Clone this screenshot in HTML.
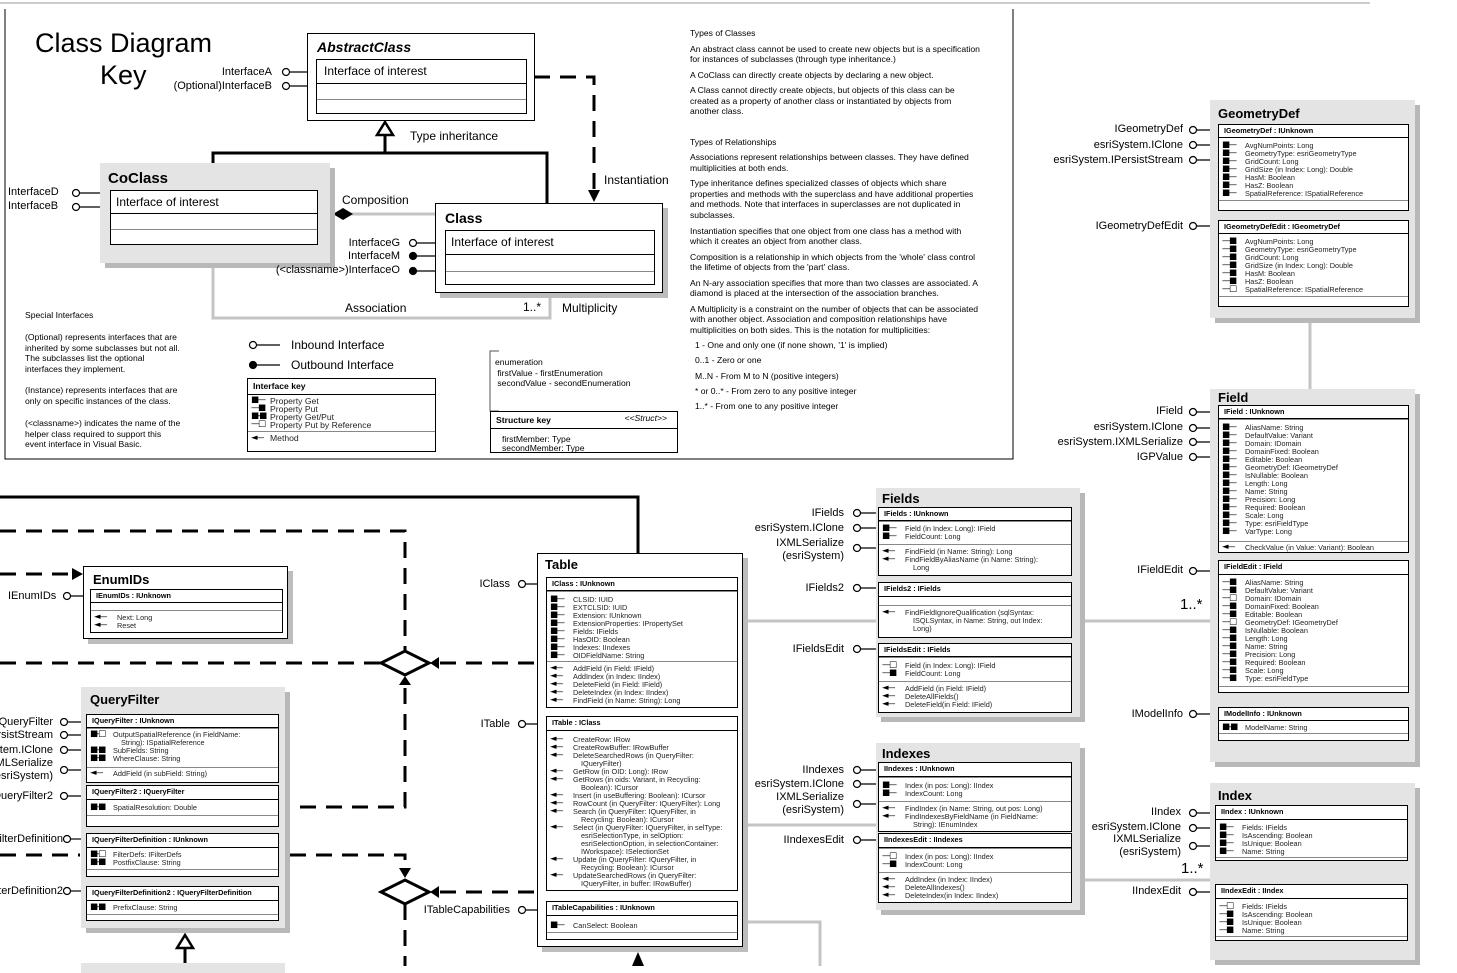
<!DOCTYPE html>
<html><head><meta charset="utf-8"><style>
*{margin:0;padding:0;box-sizing:border-box}
body{width:1457px;height:966px;overflow:hidden;background:#fff;position:relative;font-family:"Liberation Sans",Arial,sans-serif;color:#000}
.a{position:absolute;white-space:nowrap}
.g{position:absolute;background:#e4e4e4;box-shadow:5px 5px 0 #b8b8b8}
.w{position:absolute;background:#fff;border:1.5px solid #000;box-shadow:5px 5px 0 #bdbdbd}
.t{position:absolute;font-weight:bold;font-size:13px;white-space:nowrap}
.f{position:absolute;background:#fff;border:1.5px solid #000;font-size:7.3px;line-height:8px}
.h{font-weight:bold;font-size:7.3px;padding:2px 0 0 5px;border-bottom:1.5px solid #000}
.s{border-top:1.5px solid #888;padding:2px 0}
.s:first-of-type{border-top:none}
.m{position:relative;padding-left:26px;white-space:nowrap;color:#222}
.m i{position:absolute;left:3px;top:-1px;font-style:normal;font-family:"DejaVu Sans",sans-serif;font-size:8.5px;letter-spacing:-1.5px;color:#000}
.c{padding-left:8px}
.l{position:absolute;font-size:11px;text-align:right;white-space:nowrap;line-height:13px}
.x{position:absolute;font-size:8.6px;white-space:nowrap}
</style></head><body>

<svg width="1457" height="966" style="position:absolute;left:0;top:0">
<line x1="0" y1="3" x2="1370" y2="3" stroke="#ccc" stroke-width="2"/>
<polyline points="5,9 5,459 1013,459 1013,9" fill="none" stroke="#000" stroke-width="1"/>
<polyline points="534,77 594,77 594,192" fill="none" stroke="#000" stroke-width="3" stroke-dasharray="16,10"/>
<polygon points="588,190 600,190 594,202" fill="#000"/>
<polyline points="213,163 213,153 547,153 547,203" fill="none" stroke="#000" stroke-width="3"/>
<line x1="385" y1="133" x2="385" y2="153" stroke="#000" stroke-width="3"/>
<polygon points="385,122 377,135 393,135" fill="#fff" stroke="#000" stroke-width="2.5"/>
<polyline points="213,265 213,318 550,318 550,297" fill="none" stroke="#c4c4c4" stroke-width="3"/>
<line x1="336" y1="214" x2="435" y2="214" stroke="#c4c4c4" stroke-width="3"/>
<polygon points="333,214 343,208 353,214 343,220" fill="#000"/>
<polyline points="499,351 490,351 490,411 499,411" fill="none" stroke="#555" stroke-width="1"/>

<polyline points="0,497 638,497 638,553" fill="none" stroke="#000" stroke-width="3"/>
<polyline points="0,531 405,531 405,650" fill="none" stroke="#000" stroke-width="3" stroke-dasharray="16,10"/>
<line x1="0" y1="574" x2="72" y2="574" stroke="#000" stroke-width="3" stroke-dasharray="16,10"/>
<polygon points="72,568 83,574 72,580" fill="#000"/>
<line x1="0" y1="663" x2="380" y2="663" stroke="#000" stroke-width="3" stroke-dasharray="16,10"/>
<line x1="440" y1="663" x2="537" y2="663" stroke="#000" stroke-width="3" stroke-dasharray="16,10"/>
<polygon points="381,663 405,651 429,663 405,675" fill="#fff" stroke="#000" stroke-width="3"/>
<polygon points="430,663 439,657 439,669" fill="#000"/>
<polygon points="405,676 399,685 411,685" fill="#000"/>
<polyline points="405,688 405,807 290,807" fill="none" stroke="#000" stroke-width="3" stroke-dasharray="16,10"/>
<line x1="0" y1="855" x2="80" y2="855" stroke="#000" stroke-width="3" stroke-dasharray="16,10"/>
<polyline points="290,855 405,855 405,868" fill="none" stroke="#000" stroke-width="3" stroke-dasharray="16,10"/>
<polygon points="399,868 411,868 405,878" fill="#000"/>
<polygon points="381,892 405,880 429,892 405,904" fill="#fff" stroke="#000" stroke-width="3"/>
<polygon points="430,892 439,886 439,898" fill="#000"/>
<line x1="440" y1="892" x2="537" y2="892" stroke="#000" stroke-width="3" stroke-dasharray="16,10"/>
<line x1="405" y1="904" x2="405" y2="966" stroke="#000" stroke-width="3" stroke-dasharray="16,10"/>
<line x1="185" y1="948" x2="185" y2="966" stroke="#000" stroke-width="3"/>
<polygon points="185,935 177,948 193,948" fill="#fff" stroke="#000" stroke-width="2.5"/>
<polygon points="638,952 632,966 644,966" fill="#000"/>
<line x1="748" y1="621" x2="876" y2="621" stroke="#c4c4c4" stroke-width="3"/>
<line x1="1085" y1="621" x2="1215" y2="621" stroke="#c4c4c4" stroke-width="3"/>
<line x1="748" y1="825" x2="876" y2="825" stroke="#c4c4c4" stroke-width="3"/>
<line x1="1085" y1="880" x2="1215" y2="880" stroke="#c4c4c4" stroke-width="3"/>
<polyline points="748,922 820,922 820,966" fill="none" stroke="#c4c4c4" stroke-width="3"/>
<line x1="1310" y1="320" x2="1310" y2="390" stroke="#c4c4c4" stroke-width="3"/>

<g stroke="#000" stroke-width="1.2" fill="#fff">
<line x1="289" y1="72" x2="316" y2="72"/><circle cx="286" cy="72" r="3.5"/>
<line x1="289" y1="86" x2="316" y2="86"/><circle cx="286" cy="86" r="3.5"/>
<line x1="79" y1="193" x2="110" y2="193"/><circle cx="76" cy="193" r="3.5"/>
<line x1="79" y1="207" x2="110" y2="207"/><circle cx="76" cy="207" r="3.5"/>
<line x1="416" y1="243" x2="445" y2="243"/><circle cx="413" cy="243" r="3.5"/>
<line x1="416" y1="256" x2="445" y2="256"/><circle cx="413" cy="256" r="3.5" fill="#000"/>
<line x1="416" y1="271" x2="445" y2="271"/><circle cx="413" cy="271" r="3.5" fill="#000"/>
<line x1="256" y1="345" x2="280" y2="345"/><circle cx="253" cy="345" r="3.5"/>
<line x1="256" y1="365" x2="280" y2="365"/><circle cx="253" cy="365" r="3.5" fill="#000"/>

<line x1="1196" y1="130" x2="1218" y2="130"/><circle cx="1193" cy="130" r="3.5"/>
<line x1="1196" y1="145" x2="1218" y2="145"/><circle cx="1193" cy="145" r="3.5"/>
<line x1="1196" y1="160" x2="1218" y2="160"/><circle cx="1193" cy="160" r="3.5"/>
<line x1="1196" y1="226" x2="1218" y2="226"/><circle cx="1193" cy="226" r="3.5"/>
<line x1="1196" y1="412" x2="1218" y2="412"/><circle cx="1193" cy="412" r="3.5"/>
<line x1="1196" y1="428" x2="1218" y2="428"/><circle cx="1193" cy="428" r="3.5"/>
<line x1="1196" y1="442" x2="1218" y2="442"/><circle cx="1193" cy="442" r="3.5"/>
<line x1="1196" y1="457" x2="1218" y2="457"/><circle cx="1193" cy="457" r="3.5"/>
<line x1="1196" y1="571" x2="1218" y2="571"/><circle cx="1193" cy="571" r="3.5"/>
<line x1="1196" y1="714" x2="1218" y2="714"/><circle cx="1193" cy="714" r="3.5"/>
<line x1="1196" y1="813" x2="1218" y2="813"/><circle cx="1193" cy="813" r="3.5"/>
<line x1="1196" y1="828" x2="1218" y2="828"/><circle cx="1193" cy="828" r="3.5"/>
<line x1="1196" y1="846" x2="1218" y2="846"/><circle cx="1193" cy="846" r="3.5"/>
<line x1="1196" y1="892" x2="1218" y2="892"/><circle cx="1193" cy="892" r="3.5"/>

<line x1="860" y1="513" x2="878" y2="513"/><circle cx="857" cy="513" r="3.5"/>
<line x1="860" y1="528" x2="878" y2="528"/><circle cx="857" cy="528" r="3.5"/>
<line x1="860" y1="548" x2="878" y2="548"/><circle cx="857" cy="548" r="3.5"/>
<line x1="860" y1="588" x2="878" y2="588"/><circle cx="857" cy="588" r="3.5"/>
<line x1="860" y1="649" x2="878" y2="649"/><circle cx="857" cy="649" r="3.5"/>
<line x1="860" y1="770" x2="878" y2="770"/><circle cx="857" cy="770" r="3.5"/>
<line x1="860" y1="784" x2="878" y2="784"/><circle cx="857" cy="784" r="3.5"/>
<line x1="860" y1="804" x2="878" y2="804"/><circle cx="857" cy="804" r="3.5"/>
<line x1="860" y1="840" x2="878" y2="840"/><circle cx="857" cy="840" r="3.5"/>

<line x1="525" y1="584" x2="546" y2="584"/><circle cx="522" cy="584" r="3.5"/>
<line x1="525" y1="724" x2="546" y2="724"/><circle cx="522" cy="724" r="3.5"/>
<line x1="525" y1="910" x2="546" y2="910"/><circle cx="522" cy="910" r="3.5"/>
<line x1="70" y1="596" x2="90" y2="596"/><circle cx="67" cy="596" r="3.5"/>

<line x1="67" y1="722" x2="86" y2="722"/><circle cx="64" cy="722" r="3.5"/>
<line x1="67" y1="735" x2="86" y2="735"/><circle cx="64" cy="735" r="3.5"/>
<line x1="67" y1="750" x2="86" y2="750"/><circle cx="64" cy="750" r="3.5"/>
<line x1="67" y1="770" x2="86" y2="770"/><circle cx="64" cy="770" r="3.5"/>
<line x1="67" y1="796" x2="86" y2="796"/><circle cx="64" cy="796" r="3.5"/>
<line x1="70" y1="839" x2="86" y2="839"/><circle cx="67" cy="839" r="3.5"/>
<line x1="70" y1="891" x2="86" y2="891"/><circle cx="67" cy="891" r="3.5"/>
</g>
</svg>

<div class="a" style="left:35px;top:28px;font-size:27px">Class Diagram</div>
<div class="a" style="left:100px;top:60px;font-size:27px">Key</div>

<div class="w" style="left:307px;top:33px;width:228px;height:88px;box-shadow:none"></div>
<div class="t" style="left:317px;top:39px;font-style:italic;font-size:14px">AbstractClass</div>
<div class="f" style="left:316px;top:59px;width:211px;height:55px;font-size:12px;line-height:12px">
<div style="height:24px;border-bottom:1.5px solid #000;padding:5px 0 0 7px">Interface of interest</div>
<div style="height:16px;border-bottom:1.5px solid #888"></div></div>
<div class="l" style="left:150px;top:66px;width:122px">InterfaceA</div>
<div class="l" style="left:150px;top:80px;width:122px">(Optional)InterfaceB</div>
<div class="a" style="left:410px;top:129px;font-size:12px">Type inheritance</div>
<div class="a" style="left:604px;top:173px;font-size:12px">Instantiation</div>

<div class="g" style="left:100px;top:163px;width:230px;height:100px"></div>
<div class="t" style="left:108px;top:170px;font-size:15px">CoClass</div>
<div class="f" style="left:110px;top:190px;width:208px;height:55px;font-size:12px;line-height:12px">
<div style="height:23px;border-bottom:1.5px solid #000;padding:5px 0 0 5px">Interface of interest</div>
<div style="height:16px;border-bottom:1.5px solid #888"></div></div>
<div class="l" style="left:8px;top:186px;text-align:left">InterfaceD</div>
<div class="l" style="left:8px;top:200px;text-align:left">InterfaceB</div>
<div class="a" style="left:342px;top:193px;font-size:12px">Composition</div>

<div class="w" style="left:435px;top:203px;width:228px;height:90px"></div>
<div class="t" style="left:445px;top:210px;font-size:14px">Class</div>
<div class="f" style="left:445px;top:230px;width:210px;height:55px;font-size:12px;line-height:12px">
<div style="height:24px;border-bottom:1.5px solid #000;padding:5px 0 0 5px">Interface of interest</div>
<div style="height:17px;border-bottom:1.5px solid #888"></div></div>
<div class="l" style="left:250px;top:237px;width:150px">InterfaceG</div>
<div class="l" style="left:250px;top:250px;width:150px">InterfaceM</div>
<div class="l" style="left:200px;top:264px;width:200px">(&lt;classname&gt;)InterfaceO</div>
<div class="a" style="left:345px;top:301px;font-size:12px">Association</div>
<div class="a" style="left:523px;top:300px;font-size:12px">1..*</div>
<div class="a" style="left:562px;top:301px;font-size:12px">Multiplicity</div>

<div class="x" style="left:25px;top:310px">Special Interfaces</div>
<div class="x" style="left:25px;top:332px;line-height:10.5px">(Optional) represents interfaces that are<br>inherited by some subclasses but not all.<br>The subclasses list the optional<br>interfaces they implement.</div>
<div class="x" style="left:25px;top:385px;line-height:10.5px">(Instance) represents interfaces that are<br>only on specific instances of the class.</div>
<div class="x" style="left:25px;top:418px;line-height:10.5px">(&lt;classname&gt;) indicates the name of the<br>helper class required to support  this<br>event interface in Visual Basic.</div>

<div class="a" style="left:291px;top:338px;font-size:12px">Inbound Interface</div>
<div class="a" style="left:291px;top:358px;font-size:12px">Outbound Interface</div>

<div class="f" style="left:247px;top:378px;width:189px;height:74px;font-size:8.6px;line-height:8px">
<div style="font-weight:bold;height:16px;padding:3px 0 0 5px;border-bottom:1.5px solid #000">Interface key</div>
<div class="m" style="margin-top:2px;padding-left:22px"><i>■—</i>Property Get</div>
<div class="m" style="padding-left:22px"><i>—■</i>Property Put</div>
<div class="m" style="padding-left:22px"><i>■-■</i>Property Get/Put</div>
<div class="m" style="padding-left:22px"><i>—□</i>Property Put by Reference</div>
<div class="m" style="padding-left:22px;border-top:1.5px solid #888;margin-top:2px;padding-top:2px"><i style="top:2px">◄—</i>Method</div>
</div>

<div class="x" style="left:495px;top:357px;line-height:10.5px">enumeration<br>&nbsp;firstValue - firstEnumeration<br>&nbsp;secondValue - secondEnumeration</div>
<div class="f" style="left:490px;top:411px;width:188px;height:42px;font-size:8.6px;line-height:9px;overflow:hidden">
<div style="font-weight:bold;height:17px;padding:4px 0 0 5px;border-bottom:1.5px solid #000">Structure key<span style="position:absolute;right:10px;top:2px;font-weight:normal;font-style:italic">&lt;&lt;Struct&gt;&gt;</span></div>
<div style="padding:6px 0 0 11px">firstMember: Type<br>secondMember: Type</div></div>

<div class="x" style="left:690px;top:28px">Types of Classes</div>
<div class="x" style="left:690px;top:44px">An abstract class cannot be used to create new objects but is a specification</div>
<div class="x" style="left:690px;top:54px">for instances of subclasses (through type inheritance.)</div>
<div class="x" style="left:690px;top:70px">A CoClass can directly create objects by declaring a new object.</div>
<div class="x" style="left:690px;top:85px">A Class cannot directly create objects, but objects of this class can be</div>
<div class="x" style="left:690px;top:96px">created as a property of another class or instantiated by objects from</div>
<div class="x" style="left:690px;top:106px">another class.</div>
<div class="x" style="left:690px;top:137px">Types of Relationships</div>
<div class="x" style="left:690px;top:152px">Associations represent relationships between classes. They have defined</div>
<div class="x" style="left:690px;top:163px">multiplicities at both ends.</div>
<div class="x" style="left:690px;top:178px">Type inheritance defines specialized classes of objects which share</div>
<div class="x" style="left:690px;top:189px">properties and methods with the superclass and have additional properties</div>
<div class="x" style="left:690px;top:199px">and methods. Note that interfaces in superclasses are not duplicated in</div>
<div class="x" style="left:690px;top:210px">subclasses.</div>
<div class="x" style="left:690px;top:226px">Instantiation specifies that one object from one class has a method with</div>
<div class="x" style="left:690px;top:236px">which it creates an object from another class.</div>
<div class="x" style="left:690px;top:252px">Composition is a relationship in which objects from the 'whole' class control</div>
<div class="x" style="left:690px;top:262px">the lifetime of objects from the 'part' class.</div>
<div class="x" style="left:690px;top:278px">An N-ary association specifies that more than two classes are associated. A</div>
<div class="x" style="left:690px;top:288px">diamond is placed at the intersection of the association branches.</div>
<div class="x" style="left:690px;top:304px">A Multiplicity is a constraint on the number of objects that can be associated</div>
<div class="x" style="left:690px;top:314px">with another object. Association and composition relationships have</div>
<div class="x" style="left:690px;top:325px">multiplicities on both sides. This is the notation for multiplicities:</div>
<div class="x" style="left:695px;top:340px">1 - One and only one (if none shown, '1' is implied)</div>
<div class="x" style="left:695px;top:355px">0..1 - Zero or one</div>
<div class="x" style="left:695px;top:371px">M..N - From M to N (positive integers)</div>
<div class="x" style="left:695px;top:386px">* or 0..* - From zero to any positive integer</div>
<div class="x" style="left:695px;top:401px">1..* - From one to any positive integer</div>

<div class="w" style="left:83px;top:566px;width:205px;height:73px"></div>
<div class="t" style="left:93px;top:572px">EnumIDs</div>
<div class="f" style="left:90px;top:589px;width:193px;height:44px">
<div class="h" style="height:13px">IEnumIDs : IUnknown</div>
<div style="height:8px;border-bottom:1.5px solid #888"></div>
<div class="m" style="margin-top:3px"><i>◄—</i>Next: Long</div>
<div class="m"><i>◄—</i>Reset</div></div>
<div class="l" style="left:8px;top:590px;text-align:left">IEnumIDs</div>

<div class="g" style="left:81px;top:687px;width:204px;height:241px"></div>
<div class="g" style="left:81px;top:963px;width:204px;height:10px;box-shadow:none"></div>
<div class="t" style="left:90px;top:692px">QueryFilter</div>
<div class="f" style="left:86px;top:714px;width:193px;height:69px">
<div class="h" style="height:13px">IQueryFilter : IUnknown</div>
<div class="s" style="height:39px"><div class="m"><i>■-□</i>OutputSpatialReference (in FieldName:<br><span class="c">String): ISpatialReference</span></div>
<div class="m"><i>■-■</i>SubFields: String</div><div class="m"><i>■-■</i>WhereClause: String</div></div>
<div class="s" style="border-top:1.5px solid #888"><div class="m"><i>◄—</i>AddField (in subField: String)</div></div></div>
<div class="f" style="left:86px;top:785px;width:193px;height:42px">
<div class="h" style="height:14px">IQueryFilter2 : IQueryFilter</div>
<div style="height:16px;border-bottom:1.5px solid #888;padding-top:4px"><div class="m"><i>■-■</i>SpatialResolution: Double</div></div></div>
<div class="f" style="left:86px;top:833px;width:193px;height:44px">
<div class="h" style="height:14px">IQueryFilterDefinition : IUnknown</div>
<div style="height:22px;border-bottom:1.5px solid #888;padding-top:3px"><div class="m"><i>■-□</i>FilterDefs: IFilterDefs</div><div class="m"><i>■-■</i>PostfixClause: String</div></div></div>
<div class="f" style="left:86px;top:886px;width:193px;height:35px">
<div class="h" style="height:14px">IQueryFilterDefinition2 : IQueryFilterDefinition</div>
<div style="height:14px;border-bottom:1.5px solid #888;padding-top:3px"><div class="m"><i>■-■</i>PrefixClause: String</div></div></div>
<div class="l" style="left:-100px;top:716px;width:153px">IQueryFilter</div>
<div class="l" style="left:-100px;top:729px;width:153px">IPersistStream</div>
<div class="l" style="left:-100px;top:744px;width:153px">esriSystem.IClone</div>
<div class="l" style="left:-100px;top:757px;width:153px">IXMLSerialize<br>(esriSystem)</div>
<div class="l" style="left:-100px;top:790px;width:153px">IQueryFilter2</div>
<div class="l" style="left:-100px;top:833px;width:163px">IQueryFilterDefinition</div>
<div class="l" style="left:-100px;top:885px;width:163px">IQueryFilterDefinition2</div>

<div class="w" style="left:537px;top:553px;width:206px;height:394px"></div>
<div class="t" style="left:545px;top:557px">Table</div>
<div class="f" style="left:546px;top:577px;width:192px;height:131px">
<div class="h" style="height:13px">IClass : IUnknown</div>
<div class="s" style="height:70px;padding-top:4px">
<div class="m"><i>■—</i>CLSID: IUID</div><div class="m"><i>■—</i>EXTCLSID: IUID</div><div class="m"><i>■—</i>Extension: IUnknown</div><div class="m"><i>■—</i>ExtensionProperties: IPropertySet</div><div class="m"><i>■—</i>Fields: IFields</div><div class="m"><i>■—</i>HasOID: Boolean</div><div class="m"><i>■—</i>Indexes: IIndexes</div><div class="m"><i>■—</i>OIDFieldName: String</div></div>
<div class="s" style="border-top:1.5px solid #888;padding-top:3px">
<div class="m"><i>◄—</i>AddField (in Field: IField)</div><div class="m"><i>◄—</i>AddIndex (in Index: IIndex)</div><div class="m"><i>◄—</i>DeleteField (in Field: IField)</div><div class="m"><i>◄—</i>DeleteIndex (in Index: IIndex)</div><div class="m"><i>◄—</i>FindField (in Name: String): Long</div></div></div>
<div class="f" style="left:546px;top:716px;width:192px;height:175px">
<div class="h" style="height:14px">ITable : IClass</div>
<div style="padding-top:5px">
<div class="m"><i>◄—</i>CreateRow: IRow</div><div class="m"><i>◄—</i>CreateRowBuffer: IRowBuffer</div><div class="m"><i>◄—</i>DeleteSearchedRows (in QueryFilter:<br><span class="c">IQueryFilter)</span></div><div class="m"><i>◄—</i>GetRow (in OID: Long): IRow</div><div class="m"><i>◄—</i>GetRows (in oids: Variant, in Recycling:<br><span class="c">Boolean): ICursor</span></div><div class="m"><i>◄—</i>Insert (in useBuffering: Boolean): ICursor</div><div class="m"><i>◄—</i>RowCount (in QueryFilter: IQueryFilter): Long</div><div class="m"><i>◄—</i>Search (in QueryFilter: IQueryFilter, in<br><span class="c">Recycling: Boolean): ICursor</span></div><div class="m"><i>◄—</i>Select (in QueryFilter: IQueryFilter, in selType:<br><span class="c">esriSelectionType, in selOption:</span><br><span class="c">esriSelectionOption, in selectionContainer:</span><br><span class="c">IWorkspace): ISelectionSet</span></div><div class="m"><i>◄—</i>Update (in QueryFilter: IQueryFilter, in<br><span class="c">Recycling: Boolean): ICursor</span></div><div class="m"><i>◄—</i>UpdateSearchedRows (in QueryFilter:<br><span class="c">IQueryFilter, in buffer: IRowBuffer)</span></div></div></div>
<div class="f" style="left:546px;top:901px;width:192px;height:39px">
<div class="h" style="height:14px">ITableCapabilities : IUnknown</div>
<div style="height:17px;border-bottom:1.5px solid #888;padding-top:6px"><div class="m"><i>■—</i>CanSelect: Boolean</div></div></div>
<div class="l" style="left:400px;top:578px;width:110px">IClass</div>
<div class="l" style="left:400px;top:718px;width:110px">ITable</div>
<div class="l" style="left:400px;top:904px;width:110px">ITableCapabilities</div>

<div class="g" style="left:876px;top:488px;width:204px;height:229px"></div>
<div class="t" style="left:882px;top:491px">Fields</div>
<div class="f" style="left:878px;top:507px;width:194px;height:69px">
<div class="h" style="height:13px">IFields : IUnknown</div>
<div class="s" style="height:23px;padding-top:3px"><div class="m"><i>■—</i>Field (in Index: Long): IField</div><div class="m"><i>■—</i>FieldCount: Long</div></div>
<div class="s" style="border-top:1.5px solid #888;padding-top:3px"><div class="m"><i>◄—</i>FindField (in Name: String): Long</div><div class="m"><i>◄—</i>FindFieldByAliasName (in Name: String):<br><span class="c">Long</span></div></div></div>
<div class="f" style="left:878px;top:582px;width:194px;height:56px">
<div class="h" style="height:14px">IFields2 : IFields</div>
<div style="height:9px;border-bottom:1.5px solid #888"></div>
<div style="padding-top:3px"><div class="m"><i>◄—</i>FindFieldIgnoreQualification (sqlSyntax:<br><span class="c">ISQLSyntax, in Name: String, out Index:</span><br><span class="c">Long)</span></div></div></div>
<div class="f" style="left:878px;top:643px;width:194px;height:70px">
<div class="h" style="height:13px">IFieldsEdit : IFields</div>
<div class="s" style="height:24px;padding-top:4px"><div class="m"><i>—□</i>Field (in Index: Long): IField</div><div class="m"><i>—■</i>FieldCount: Long</div></div>
<div class="s" style="border-top:1.5px solid #888;padding-top:3px"><div class="m"><i>◄—</i>AddField (in Field: IField)</div><div class="m"><i>◄—</i>DeleteAllFields()</div><div class="m"><i>◄—</i>DeleteField(in Field: IField)</div></div></div>
<div class="l" style="left:700px;top:507px;width:144px">IFields</div>
<div class="l" style="left:700px;top:522px;width:144px">esriSystem.IClone</div>
<div class="l" style="left:700px;top:537px;width:144px">IXMLSerialize<br>(esriSystem)</div>
<div class="l" style="left:700px;top:582px;width:144px">IFields2</div>
<div class="l" style="left:700px;top:643px;width:144px">IFieldsEdit</div>

<div class="g" style="left:876px;top:743px;width:204px;height:167px"></div>
<div class="t" style="left:882px;top:746px">Indexes</div>
<div class="f" style="left:878px;top:762px;width:194px;height:70px">
<div class="h" style="height:14px">IIndexes : IUnknown</div>
<div class="s" style="height:24px;padding-top:4px"><div class="m"><i>■—</i>Index (in pos: Long): IIndex</div><div class="m"><i>■—</i>IndexCount: Long</div></div>
<div class="s" style="border-top:1.5px solid #888;padding-top:3px"><div class="m"><i>◄—</i>FindIndex (in Name: String, out pos: Long)</div><div class="m"><i>◄—</i>FindIndexesByFieldName (in FieldName:<br><span class="c">String): IEnumIndex</span></div></div></div>
<div class="f" style="left:878px;top:833px;width:194px;height:70px">
<div class="h" style="height:14px">IIndexesEdit : IIndexes</div>
<div class="s" style="height:24px;padding-top:4px"><div class="m"><i>—□</i>Index (in pos: Long): IIndex</div><div class="m"><i>—■</i>IndexCount: Long</div></div>
<div class="s" style="border-top:1.5px solid #888;padding-top:3px"><div class="m"><i>◄—</i>AddIndex (in Index: IIndex)</div><div class="m"><i>◄—</i>DeleteAllIndexes()</div><div class="m"><i>◄—</i>DeleteIndex(in Index: IIndex)</div></div></div>
<div class="l" style="left:700px;top:764px;width:144px">IIndexes</div>
<div class="l" style="left:700px;top:778px;width:144px">esriSystem.IClone</div>
<div class="l" style="left:700px;top:791px;width:144px">IXMLSerialize<br>(esriSystem)</div>
<div class="l" style="left:700px;top:834px;width:144px">IIndexesEdit</div>

<div class="g" style="left:1210px;top:100px;width:205px;height:218px"></div>
<div class="t" style="left:1218px;top:106px">GeometryDef</div>
<div class="f" style="left:1218px;top:124px;width:191px;height:87px">
<div class="h" style="height:13px">IGeometryDef : IUnknown</div>
<div style="height:63px;border-bottom:1.5px solid #888;padding-top:4px">
<div class="m"><i>■—</i>AvgNumPoints: Long</div><div class="m"><i>■—</i>GeometryType: esriGeometryType</div><div class="m"><i>■—</i>GridCount: Long</div><div class="m"><i>■—</i>GridSize (in Index: Long): Double</div><div class="m"><i>■—</i>HasM: Boolean</div><div class="m"><i>■—</i>HasZ: Boolean</div><div class="m"><i>■—</i>SpatialReference: ISpatialReference</div></div></div>
<div class="f" style="left:1218px;top:220px;width:191px;height:87px">
<div class="h" style="height:13px">IGeometryDefEdit : IGeometryDef</div>
<div style="height:63px;border-bottom:1.5px solid #888;padding-top:4px">
<div class="m"><i>—■</i>AvgNumPoints: Long</div><div class="m"><i>—■</i>GeometryType: esriGeometryType</div><div class="m"><i>—■</i>GridCount: Long</div><div class="m"><i>—■</i>GridSize (in Index: Long): Double</div><div class="m"><i>—■</i>HasM: Boolean</div><div class="m"><i>—■</i>HasZ: Boolean</div><div class="m"><i>—□</i>SpatialReference: ISpatialReference</div></div></div>
<div class="l" style="left:1000px;top:123px;width:183px">IGeometryDef</div>
<div class="l" style="left:1000px;top:139px;width:183px">esriSystem.IClone</div>
<div class="l" style="left:1000px;top:154px;width:183px">esriSystem.IPersistStream</div>
<div class="l" style="left:1000px;top:220px;width:183px">IGeometryDefEdit</div>

<div class="g" style="left:1210px;top:389px;width:205px;height:373px"></div>
<div class="t" style="left:1218px;top:390px">Field</div>
<div class="f" style="left:1218px;top:405px;width:191px;height:148px">
<div class="h" style="height:13px">IField : IUnknown</div>
<div class="s" style="height:122px;padding-top:4px">
<div class="m"><i>■—</i>AliasName: String</div><div class="m"><i>■—</i>DefaultValue: Variant</div><div class="m"><i>■—</i>Domain: IDomain</div><div class="m"><i>■—</i>DomainFixed: Boolean</div><div class="m"><i>■—</i>Editable: Boolean</div><div class="m"><i>■—</i>GeometryDef: IGeometryDef</div><div class="m"><i>■—</i>IsNullable: Boolean</div><div class="m"><i>■—</i>Length: Long</div><div class="m"><i>■—</i>Name: String</div><div class="m"><i>■—</i>Precision: Long</div><div class="m"><i>■—</i>Required: Boolean</div><div class="m"><i>■—</i>Scale: Long</div><div class="m"><i>■—</i>Type: esriFieldType</div><div class="m"><i>■—</i>VarType: Long</div></div>
<div class="s" style="border-top:1.5px solid #888"><div class="m"><i>◄—</i>CheckValue (in Value: Variant): Boolean</div></div></div>
<div class="f" style="left:1218px;top:560px;width:191px;height:133px">
<div class="h" style="height:14px">IFieldEdit : IField</div>
<div style="height:112px;border-bottom:1.5px solid #888;padding-top:4px">
<div class="m"><i>—■</i>AliasName: String</div><div class="m"><i>—■</i>DefaultValue: Variant</div><div class="m"><i>—□</i>Domain: IDomain</div><div class="m"><i>—■</i>DomainFixed: Boolean</div><div class="m"><i>—■</i>Editable: Boolean</div><div class="m"><i>—□</i>GeometryDef: IGeometryDef</div><div class="m"><i>—■</i>IsNullable: Boolean</div><div class="m"><i>—■</i>Length: Long</div><div class="m"><i>—■</i>Name: String</div><div class="m"><i>—■</i>Precision: Long</div><div class="m"><i>—■</i>Required: Boolean</div><div class="m"><i>—■</i>Scale: Long</div><div class="m"><i>—■</i>Type: esriFieldType</div></div></div>
<div class="f" style="left:1218px;top:707px;width:191px;height:34px">
<div class="h" style="height:13px">IModelInfo : IUnknown</div>
<div style="height:13px;border-bottom:1.5px solid #888;padding-top:3px"><div class="m"><i>■-■</i>ModelName: String</div></div></div>
<div class="l" style="left:1000px;top:405px;width:183px">IField</div>
<div class="l" style="left:1000px;top:421px;width:183px">esriSystem.IClone</div>
<div class="l" style="left:1000px;top:436px;width:183px">esriSystem.IXMLSerialize</div>
<div class="l" style="left:1000px;top:451px;width:183px">IGPValue</div>
<div class="l" style="left:1000px;top:564px;width:183px">IFieldEdit</div>
<div class="l" style="left:1000px;top:708px;width:183px">IModelInfo</div>
<div class="a" style="left:1180px;top:596px;font-size:15px">1..*</div>

<div class="g" style="left:1210px;top:783px;width:205px;height:177px"></div>
<div class="t" style="left:1218px;top:788px">Index</div>
<div class="f" style="left:1215px;top:805px;width:193px;height:56px">
<div class="h" style="height:14px">IIndex : IUnknown</div>
<div style="height:38px;border-bottom:1.5px solid #888;padding-top:4px">
<div class="m"><i>■—</i>Fields: IFields</div><div class="m"><i>■—</i>IsAscending: Boolean</div><div class="m"><i>■—</i>IsUnique: Boolean</div><div class="m"><i>■—</i>Name: String</div></div></div>
<div class="f" style="left:1215px;top:884px;width:193px;height:57px">
<div class="h" style="height:14px">IIndexEdit : IIndex</div>
<div style="height:38px;border-bottom:1.5px solid #888;padding-top:4px">
<div class="m"><i>—□</i>Fields: IFields</div><div class="m"><i>—■</i>IsAscending: Boolean</div><div class="m"><i>—■</i>IsUnique: Boolean</div><div class="m"><i>—■</i>Name: String</div></div></div>
<div class="l" style="left:1000px;top:806px;width:181px">IIndex</div>
<div class="l" style="left:1000px;top:821px;width:181px">esriSystem.IClone</div>
<div class="l" style="left:1000px;top:833px;width:181px">IXMLSerialize<br>(esriSystem)</div>
<div class="l" style="left:1000px;top:885px;width:181px">IIndexEdit</div>
<div class="a" style="left:1181px;top:860px;font-size:15px">1..*</div>
</body></html>
